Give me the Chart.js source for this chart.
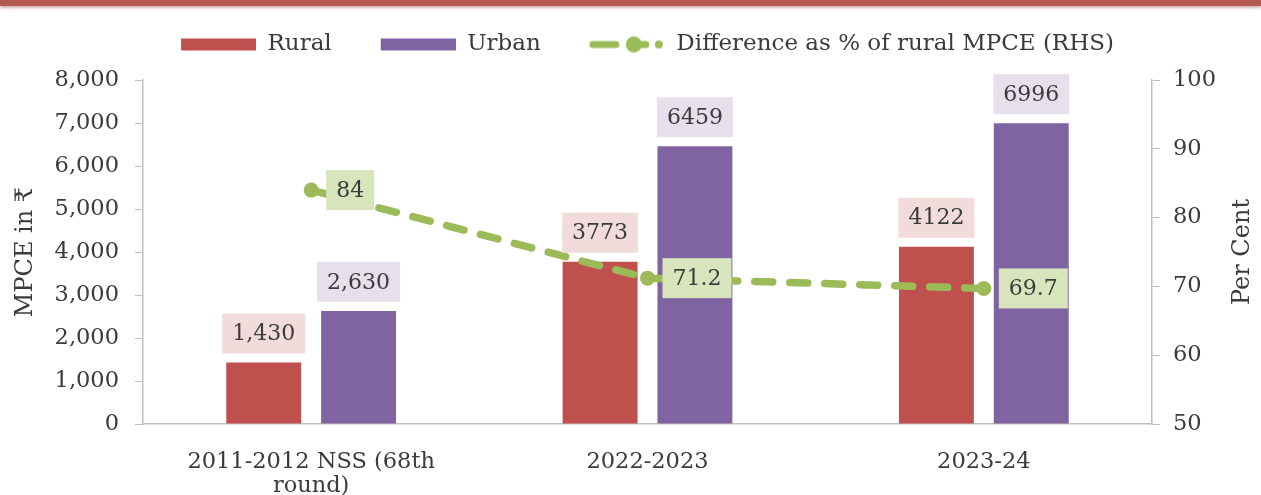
<!DOCTYPE html>
<html lang="en">
<head>
<meta charset="UTF-8">
<title>MPCE: Rural vs Urban</title>
<script src="https://cdn.jsdelivr.net/npm/chart.js"></script>
<style>
  body { margin: 0; background: #fff; }
  #wrap { position: relative; width: 1261px; height: 495px; overflow: hidden; }
  #topRule {
    position: absolute; left: 0; top: 0; width: 1261px; height: 6px;
    background: #b55a50; box-shadow: 0 2px 3px rgba(160, 80, 70, 0.45); z-index: 2;
  }
  #mpceChart { position: absolute; left: 0; top: 0; }
</style>
</head>
<body>
<div id="wrap">
  <div id="topRule"></div>
  <canvas id="mpceChart" width="1261" height="495"></canvas>
</div>
<script>
const periods = [['2011-2012 NSS (68th', 'round)'], '2022-2023', '2023-24'];
const ruralMpce = [1430, 3773, 4122];
const urbanMpce = [2630, 6459, 6996];
const diffPct = [84, 71.2, 69.7];
// first survey figures are printed with thousands separators
const useGrouping = [true, false, false];

const leftTicks = { min: 0, max: 8000, step: 1000 };
const rightTicks = { min: 50, max: 100, step: 10 };

const RURAL = '#c0504d';
const URBAN = '#8064a2';
const DIFF = '#9bbb59';
const TEXT = '#3b3b3b';
const AXIS = '#bfbfbf';
const SERIF = '"DejaVu Serif", "Liberation Serif", serif';

function fmtValue(v, i) {
  return useGrouping[i] ? v.toLocaleString('en-US') : String(v);
}

// legend swatches: bars get a flat rectangle, the line gets dash + dot
const SW = 109;
function barSwatch(color) {
  const c = document.createElement('canvas');
  c.width = SW; c.height = 14;
  const g = c.getContext('2d');
  g.fillStyle = color;
  g.fillRect(SW - 75, 1, 75, 12);
  return c;
}
function lineSwatch() {
  const c = document.createElement('canvas');
  c.width = SW; c.height = 18;
  const g = c.getContext('2d');
  g.strokeStyle = DIFF; g.fillStyle = DIFF;
  g.lineWidth = 7; g.lineCap = 'round';
  g.beginPath();
  g.moveTo(37, 9); g.lineTo(60, 9);
  g.moveTo(74, 9); g.lineTo(90, 9);
  g.stroke();
  g.beginPath(); g.arc(78, 9, 8, 0, Math.PI * 2); g.fill();
  g.beginPath(); g.arc(103, 9, 4, 0, Math.PI * 2); g.fill();
  return c;
}
const swatches = [barSwatch(RURAL), barSwatch(URBAN), lineSwatch()];

// boxed value labels: above bars, to the right of line points
const tagStyle = [
  { fill: '#f2dcdb', side: 'above' },
  { fill: '#e5e0ec', side: 'above' },
  { fill: '#d8e4bc', side: 'right' }
];
const valueTags = {
  id: 'valueTags',
  afterDatasetsDraw(chart) {
    const ctx = chart.ctx;
    ctx.save();
    ctx.font = '22px ' + SERIF;
    ctx.textAlign = 'center';
    ctx.textBaseline = 'middle';
    chart.data.datasets.forEach((ds, di) => {
      const st = tagStyle[di];
      chart.getDatasetMeta(di).data.forEach((el, i) => {
        const txt = fmtValue(ds.data[i], di === 2 ? 1 : i);
        const w = ctx.measureText(txt).width + 20;
        const h = 40;
        let cx, cy;
        if (st.side === 'above') {
          cx = el.x; cy = el.y - 9 - h / 2;
        } else {
          cx = el.x + 15 + w / 2; cy = el.y;
        }
        ctx.fillStyle = st.fill;
        ctx.fillRect(cx - w / 2, cy - h / 2, w, h);
        ctx.fillStyle = TEXT;
        ctx.fillText(txt, cx, cy + 1);
      });
    });
    ctx.restore();
  }
};

// legend sits higher, leaving a gap above the plot
const legendLift = {
  id: 'legendLift',
  afterLayout(chart) {
    chart.legend.top -= 14;
    chart.legend.bottom -= 14;
  }
};

// right axis title reads bottom-to-top like the left one
const rightTitle = {
  id: 'rightTitle',
  afterDraw(chart) {
    const { ctx, chartArea } = chart;
    ctx.save();
    ctx.font = '24px ' + SERIF;
    ctx.fillStyle = TEXT;
    ctx.textAlign = 'center';
    ctx.textBaseline = 'middle';
    ctx.translate(1243, (chartArea.top + chartArea.bottom) / 2);
    ctx.rotate(-Math.PI / 2);
    ctx.fillText('Per Cent', 0, 0);
    ctx.restore();
  }
};

new Chart(document.getElementById('mpceChart'), {
  data: {
    labels: periods,
    datasets: [
      {
        type: 'bar', label: 'Rural', data: ruralMpce, yAxisID: 'y',
        backgroundColor: RURAL, barPercentage: 0.79, categoryPercentage: 0.564, order: 1
      },
      {
        type: 'bar', label: 'Urban', data: urbanMpce, yAxisID: 'y',
        backgroundColor: URBAN, barPercentage: 0.79, categoryPercentage: 0.564, order: 1
      },
      {
        type: 'line', label: 'Difference as % of rural MPCE (RHS)', data: diffPct, yAxisID: 'y1',
        borderColor: DIFF, backgroundColor: DIFF, borderWidth: 7.5, borderDash: [18, 17],
        borderCapStyle: 'round', pointRadius: 7.5, pointBorderWidth: 0,
        pointBackgroundColor: DIFF, tension: 0, fill: false, order: 0
      }
    ]
  },
  options: {
    responsive: false,
    animation: false,
    layout: { padding: 0 },
    plugins: {
      tooltip: { enabled: false },
      legend: {
        position: 'top',
        labels: {
          usePointStyle: true,
          pointStyleWidth: SW,
          boxHeight: 14,
          padding: 15,
          color: TEXT,
          font: { family: SERIF, size: 23 },
          generateLabels: chart => chart.data.datasets.map((ds, i) => ({
            text: ds.label,
            pointStyle: swatches[i],
            fillStyle: ds.backgroundColor,
            strokeStyle: ds.backgroundColor,
            lineWidth: 0,
            hidden: false,
            fontColor: TEXT,
            datasetIndex: i
          }))
        }
      }
    },
    scales: {
      x: {
        grid: { display: false, drawTicks: false },
        border: { display: true, color: AXIS, width: 1.5 },
        ticks: { color: TEXT, font: { family: SERIF, size: 22.5, lineHeight: 1.03 }, padding: 27, maxRotation: 0 },
        afterFit: s => { s.height = 71; }
      },
      y: {
        position: 'left',
        min: leftTicks.min, max: leftTicks.max,
        grid: { drawOnChartArea: false, drawTicks: true, tickLength: 8, color: AXIS },
        border: { display: true, color: AXIS, width: 1.5 },
        ticks: {
          stepSize: leftTicks.step, padding: 16, color: TEXT,
          font: { family: SERIF, size: 22.5 },
          callback: v => v.toLocaleString('en-US')
        },
        title: {
          display: true, text: 'MPCE in ₹', color: TEXT,
          font: { family: SERIF, size: 24 }, padding: { top: 11, bottom: 0 }
        },
        afterFit: s => { s.width = 143; s.paddingTop = 80; }
      },
      y1: {
        position: 'right',
        min: rightTicks.min, max: rightTicks.max,
        grid: { drawOnChartArea: false, drawTicks: true, tickLength: 8, color: AXIS },
        border: { display: true, color: AXIS, width: 1.5 },
        ticks: { stepSize: rightTicks.step, padding: 13, color: TEXT, font: { family: SERIF, size: 22.5 } },
        afterFit: s => { s.width = 109; s.paddingTop = 80; }
      }
    }
  },
  plugins: [valueTags, legendLift, rightTitle]
});
</script>
</body>
</html>
